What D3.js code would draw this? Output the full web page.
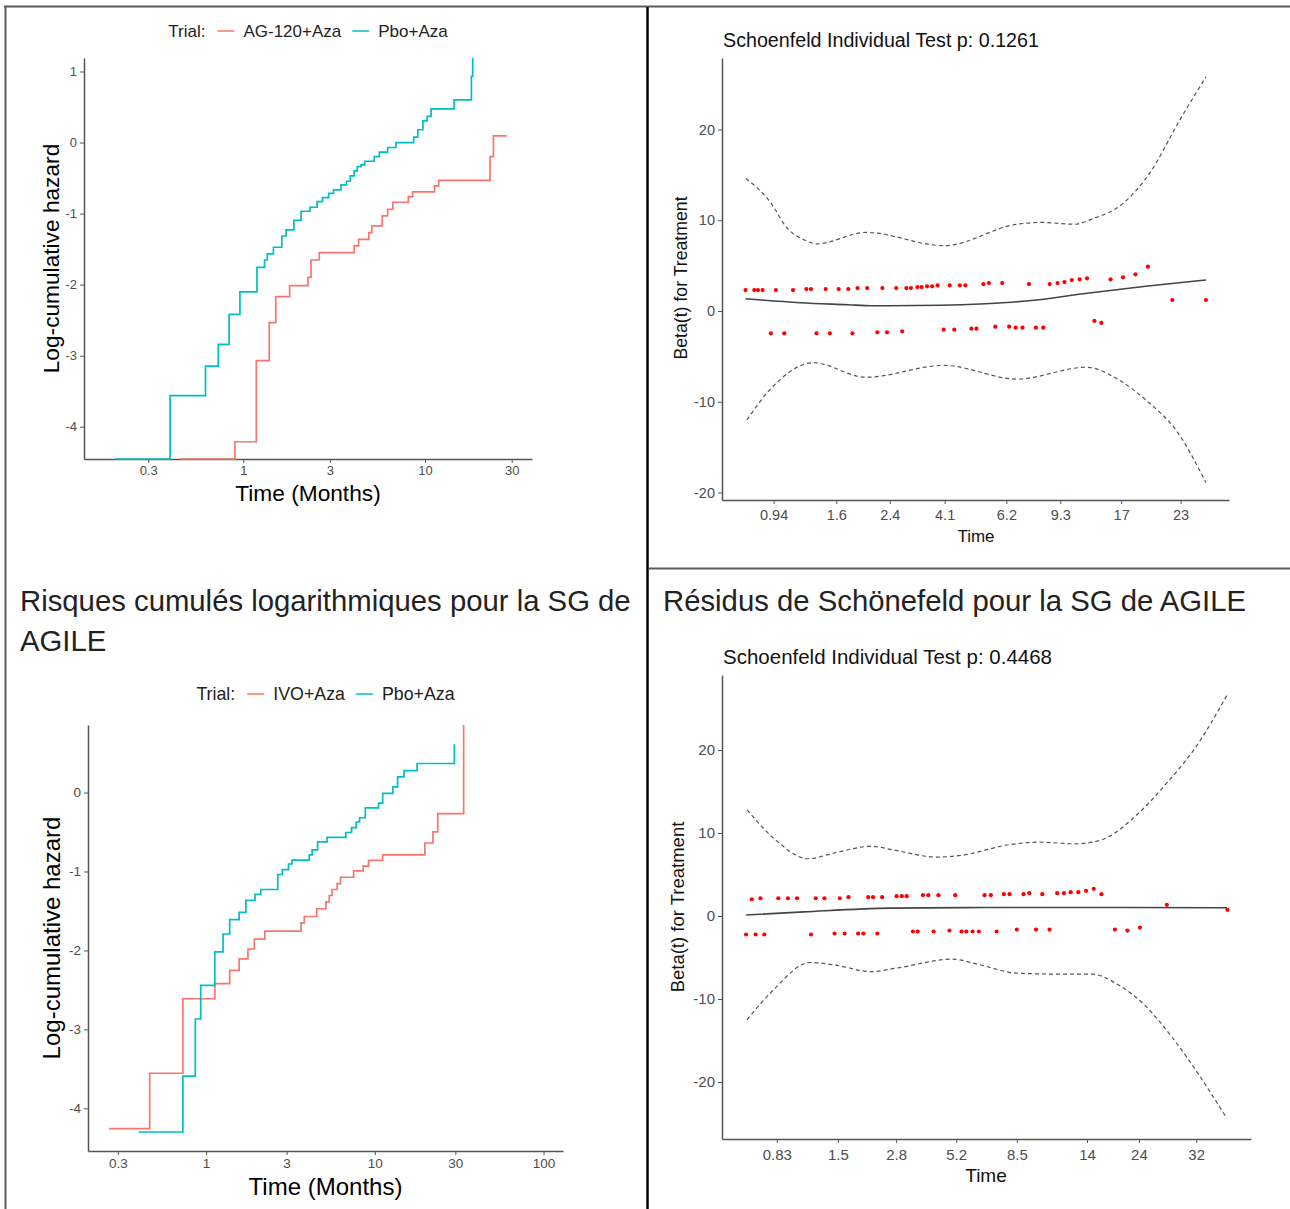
<!DOCTYPE html>
<html>
<head>
<meta charset="utf-8">
<script src="https://cdn.jsdelivr.net/npm/d3@7"></script>
<style>
body { margin: 0; background: #fff; }
svg { display: block; font-family: "Liberation Sans", Arial, sans-serif; }
</style>
</head>
<body>
<svg id="chart"></svg>
<script>
// ---- top left: log-cumulative hazard, AG-120+Aza vs Pbo+Aza ----
var tlNames = ["AG-120+Aza", "Pbo+Aza"];
var tlAgTime = [0.45, 0.90, 1.18, 1.39, 1.51, 1.80, 2.27, 2.36, 2.62, 4.08, 4.31, 4.91, 5.10, 5.82, 6.23, 6.66, 8.10, 8.54, 11.28, 11.9, 22.8, 23.8, 28.2];
var tlAgLch  = [-4.454, -4.211, -3.07, -2.535, -2.169, -2.014, -1.897, -1.653, -1.549, -1.455, -1.362, -1.268, -1.174, -1.033, -0.939, -0.840, -0.761, -0.695, -0.610, -0.531, -0.197, 0.094, 0.094];
var tlPboTime = [0.197, 0.396, 0.620, 0.729, 0.836, 0.959, 1.19, 1.31, 1.356, 1.466, 1.63, 1.72, 1.90, 2.08, 2.33, 2.55, 2.73, 2.95, 3.14, 3.45, 3.70, 3.88, 4.08, 4.24, 4.45, 4.66, 5.26, 5.61, 6.23, 6.92, 8.67, 9.13, 9.74, 10.27, 10.8, 14.45, 18.0, 18.3];
var tlPboLch  = [-4.454, -3.563, -3.146, -2.840, -2.418, -2.103, -1.756, -1.653, -1.568, -1.474, -1.315, -1.23, -1.094, -0.967, -0.911, -0.831, -0.775, -0.714, -0.667, -0.596, -0.545, -0.469, -0.399, -0.338, -0.315, -0.263, -0.197, -0.136, -0.070, 0, 0.075, 0.18, 0.305, 0.37, 0.474, 0.60, 0.93, 1.19];
var tlXTicks = [0.3, 1, 3, 10, 30];
var tlYTicks = [-4, -3, -2, -1, 0, 1];

// ---- bottom left: log-cumulative hazard, IVO+Aza vs Pbo+Aza ----
var blNames = ["IVO+Aza", "Pbo+Aza"];
var blIvoTime = [0.266, 0.463, 0.728, 1.126, 1.38, 1.57, 1.77, 1.93, 2.23, 3.65, 3.82, 4.53, 5.13, 5.37, 5.58, 5.98, 6.26, 7.49, 8.53, 9.18, 11.13, 19.8, 22.1, 23.6, 33.6];
var blIvoLch  = [-4.257, -3.556, -2.612, -2.421, -2.253, -2.106, -1.982, -1.858, -1.756, -1.650, -1.570, -1.472, -1.384, -1.304, -1.228, -1.153, -1.073, -0.993, -0.931, -0.860, -0.789, -0.639, -0.497, -0.266, 0.856];
var blPboTime = [0.398, 0.728, 0.863, 0.929, 1.126, 1.26, 1.38, 1.57, 1.72, 1.95, 2.11, 2.66, 2.83, 3.08, 3.23, 4.09, 4.25, 4.58, 5.21, 6.73, 7.28, 7.76, 8.12, 8.78, 10.52, 11.13, 12.8, 13.65, 14.9, 17.8, 29.6];
var blPboLch  = [-4.30, -3.592, -2.869, -2.443, -2.018, -1.792, -1.610, -1.517, -1.366, -1.290, -1.228, -1.038, -0.976, -0.905, -0.856, -0.789, -0.727, -0.625, -0.568, -0.506, -0.443, -0.373, -0.319, -0.195, -0.133, -0.009, 0.071, 0.20, 0.279, 0.368, 0.612];
var blXTicks = [0.3, 1, 3, 10, 30, 100];
var blYTicks = [-4, -3, -2, -1, 0];

// ---- top right: Schoenfeld residuals (transformed time, 0..1) ----
var trTickPos = [0.062, 0.198, 0.314, 0.433, 0.567, 0.684, 0.816, 0.945];
var trTickLabels = ["0.94", "1.6", "2.4", "4.1", "6.2", "9.3", "17", "23"];
var trYTicks = [-20, -10, 0, 10, 20];
var trResT = [0.001, 0.020, 0.028, 0.038, 0.067, 0.104, 0.133, 0.143, 0.175, 0.203, 0.224, 0.244, 0.265, 0.298, 0.328, 0.350, 0.360, 0.374, 0.383, 0.395, 0.406, 0.418, 0.444, 0.466, 0.478, 0.517, 0.529, 0.558, 0.616, 0.661, 0.678, 0.693, 0.709, 0.726, 0.742, 0.793, 0.820, 0.847, 0.874, 0.927, 1.000,
              0.056, 0.085, 0.155, 0.184, 0.233, 0.287, 0.308, 0.341, 0.431, 0.454, 0.491, 0.502, 0.543, 0.573, 0.587, 0.602, 0.631, 0.647, 0.758, 0.773];
var trResB = [2.31, 2.31, 2.31, 2.31, 2.31, 2.31, 2.42, 2.42, 2.42, 2.42, 2.42, 2.53, 2.53, 2.53, 2.53, 2.53, 2.53, 2.64, 2.64, 2.72, 2.72, 2.83, 2.83, 2.83, 2.83, 2.97, 3.08, 3.08, 2.97, 2.97, 3.08, 3.19, 3.41, 3.49, 3.60, 3.49, 3.71, 4.04, 4.88, 1.21, 1.21,
              -2.46, -2.46, -2.46, -2.46, -2.46, -2.35, -2.35, -2.24, -2.06, -2.06, -1.95, -1.95, -1.73, -1.73, -1.84, -1.84, -1.84, -1.84, -1.10, -1.32];
var trFitT = [0.001, 0.119, 0.223, 0.275, 0.425, 0.522, 0.627, 0.724, 0.874, 1.0];
var trFitB = [1.35, 0.91, 0.69, 0.58, 0.63, 0.80, 1.18, 1.84, 2.75, 3.41];
var trUpT = [0.002, 0.059, 0.087, 0.13, 0.156, 0.262, 0.432, 0.59, 0.644, 0.715, 0.751, 0.821, 0.874, 0.945, 1.0];
var trUpB = [14.6, 11.7, 9.4, 7.8, 7.4, 8.66, 7.2, 9.56, 9.76, 9.56, 10.1, 11.9, 14.9, 21.2, 25.8];
var trLoT = [0.004, 0.059, 0.148, 0.262, 0.432, 0.59, 0.741, 0.811, 0.874, 0.936, 1.0];
var trLoB = [-12.0, -8.4, -5.7, -7.3, -6.0, -7.5, -6.2, -7.6, -10, -13.2, -18.9];

// ---- bottom right: Schoenfeld residuals ----
var brTickPos = [0.064, 0.191, 0.312, 0.437, 0.563, 0.709, 0.817, 0.936];
var brTickLabels = ["0.83", "1.5", "2.8", "5.2", "8.5", "14", "24", "32"];
var brYTicks = [-20, -10, 0, 10, 20];
var brResT = [0.012, 0.030, 0.067, 0.087, 0.106, 0.145, 0.163, 0.195, 0.213, 0.254, 0.264, 0.283, 0.313, 0.324, 0.334, 0.368, 0.379, 0.400, 0.435, 0.496, 0.509, 0.536, 0.548, 0.577, 0.589, 0.616, 0.647, 0.661, 0.675, 0.691, 0.707, 0.723, 0.739, 0.875, 1.001,
              0.000, 0.020, 0.038, 0.135, 0.184, 0.205, 0.233, 0.244, 0.273, 0.347, 0.357, 0.390, 0.423, 0.448, 0.458, 0.471, 0.484, 0.521, 0.563, 0.603, 0.631, 0.767, 0.793, 0.819];
var brResB = [2.02, 2.14, 2.14, 2.14, 2.14, 2.14, 2.14, 2.14, 2.27, 2.27, 2.27, 2.27, 2.39, 2.39, 2.39, 2.51, 2.51, 2.51, 2.51, 2.51, 2.51, 2.63, 2.63, 2.63, 2.75, 2.63, 2.75, 2.75, 2.87, 2.87, 3.04, 3.28, 2.63, 1.35, 0.75,
              -2.23, -2.23, -2.23, -2.23, -2.11, -2.11, -2.11, -2.11, -2.11, -1.87, -1.87, -1.87, -1.75, -1.87, -1.87, -1.87, -1.87, -1.87, -1.63, -1.63, -1.63, -1.63, -1.75, -1.39];
var brFitT = [0, 0.12, 0.3, 0.5, 0.8, 1.0];
var brFitB = [0.13, 0.5, 0.95, 1.02, 1.03, 1.0];
var brUpT = [0.002, 0.057, 0.129, 0.184, 0.260, 0.311, 0.396, 0.447, 0.548, 0.608, 0.684, 0.735, 0.820, 0.870, 0.938, 1.0];
var brUpB = [12.8, 9.4, 6.9, 7.6, 8.4, 7.9, 7.1, 7.3, 8.6, 8.9, 8.7, 9.1, 12.6, 15.7, 20.6, 26.6];
var brLoT = [0.002, 0.057, 0.133, 0.184, 0.260, 0.311, 0.430, 0.481, 0.566, 0.650, 0.718, 0.777, 0.828, 0.887, 1.0];
var brLoB = [-12.5, -8.9, -5.6, -5.9, -6.7, -6.3, -5.2, -5.8, -6.9, -7.0, -7.0, -8.4, -10.7, -14.7, -24.4];

var captions = ["Risques cumulés logarithmiques pour la SG de", "AGILE", "Résidus de Schönefeld pour la SG de AGILE"];

var red = "#F8766D", teal = "#00BFC4";

var svg = d3.select("#chart")
            .attr("width", 1290)
            .attr("height", 1209);

svg.append("rect").attr("width", 1290).attr("height", 1209).attr("fill", "#fff");

// table borders
svg.append("line").attr("x1", 4).attr("x2", 1290).attr("y1", 6.5).attr("y2", 6.5)
   .attr("stroke", "#5a5a5a").attr("stroke-width", 2);
svg.append("line").attr("x1", 5.5).attr("x2", 5.5).attr("y1", 6).attr("y2", 1209)
   .attr("stroke", "#5a5a5a").attr("stroke-width", 2);
svg.append("line").attr("x1", 647.5).attr("x2", 647.5).attr("y1", 7).attr("y2", 1209)
   .attr("stroke", "#000").attr("stroke-width", 2.5);
svg.append("line").attr("x1", 649).attr("x2", 1290).attr("y1", 568.5).attr("y2", 568.5)
   .attr("stroke", "#5a5a5a").attr("stroke-width", 2);

// captions
svg.append("text").attr("x", 20).attr("y", 611).attr("font-size", 29.3).attr("fill", "#222").text(captions[0]);
svg.append("text").attr("x", 20).attr("y", 651).attr("font-size", 29.3).attr("fill", "#222").text(captions[1]);
svg.append("text").attr("x", 663).attr("y", 611).attr("font-size", 29.3).attr("fill", "#222").text(captions[2]);

// plain hyphen minus, as in the R output
var plainNum = function(d) { return String(d); };

function styleAxis(ax, fs)
{
  ax.select(".domain").attr("stroke", "#555").attr("stroke-width", 1.5);
  ax.selectAll(".tick line").attr("stroke", "#555").attr("stroke-width", 1);
  ax.selectAll(".tick text").attr("fill", "#4d4d4d").attr("font-size", fs)
    .attr("font-family", "Liberation Sans, Arial, sans-serif");
}

var drawHazard = function(o)
{
  var g = svg.append("g");
  var x = d3.scaleLog().domain(o.xDomain).range([o.left, o.right]);
  var y = d3.scaleLinear().domain(o.yDomain).range([o.bottom, o.top]);

  var xa = g.append("g").attr("transform", "translate(0," + o.bottom + ")")
            .call(d3.axisBottom(x).tickValues(o.xTicks).tickFormat(plainNum).tickSize(4).tickPadding(3).tickSizeOuter(0));
  styleAxis(xa, o.tickFs);
  var ya = g.append("g").attr("transform", "translate(" + o.left + ",0)")
            .call(d3.axisLeft(y).tickValues(o.yTicks).tickFormat(plainNum).tickSize(4).tickPadding(3).tickSizeOuter(0));
  styleAxis(ya, o.tickFs);

  var line = d3.line()
               .x(function(d) { return x(d[0]); })
               .y(function(d) { return y(d[1]); })
               .curve(d3.curveStepAfter);

  o.series.forEach(function(s)
  {
    g.append("path")
     .datum(d3.zip(s.time, s.lch))
     .attr("d", line)
     .attr("fill", "none")
     .attr("stroke", s.color)
     .attr("stroke-width", 1.7);
  });

  g.append("text").attr("x", (o.left + o.right) / 2).attr("y", o.xTitleY).attr("dy", "0.35em")
   .attr("text-anchor", "middle").attr("font-size", o.titleFs).attr("fill", "#000").text("Time (Months)");
  g.append("text").attr("transform", "translate(" + o.yTitleX + "," + (o.top + o.bottom) / 2 + ") rotate(-90)")
   .attr("dy", "0.35em").attr("text-anchor", "middle").attr("font-size", o.titleFs).attr("fill", "#000")
   .text("Log-cumulative hazard");

  // legend, centred over the panel
  var lg = g.append("g");
  var cx = 0;
  var t0 = lg.append("text").attr("x", cx).attr("y", 0).attr("dy", "0.35em").attr("font-size", o.legendFs)
             .attr("fill", "#222").text("Trial:");
  cx += t0.node().getComputedTextLength() + 12;
  o.series.forEach(function(s)
  {
    lg.append("line").attr("x1", cx).attr("x2", cx + 17).attr("y1", 0).attr("y2", 0)
      .attr("stroke", s.color).attr("stroke-width", 1.5);
    cx += 26;
    var t = lg.append("text").attr("x", cx).attr("y", 0).attr("dy", "0.35em").attr("font-size", o.legendFs)
              .attr("fill", "#222").text(s.name);
    cx += t.node().getComputedTextLength() + 11;
  });
  cx -= 11;
  lg.attr("transform", "translate(" + ((o.left + o.right) / 2 - cx / 2) + "," + o.legendY + ")");
}

var drawSchoenfeld = function(o)
{
  var g = svg.append("g");
  var x = d3.scaleLinear().domain([-0.05, 1.05]).range([o.left, o.right]);
  var y = d3.scaleLinear().domain(o.yDomain).range([o.bottom, o.top]);

  var xa = g.append("g").attr("transform", "translate(0," + o.bottom + ")")
            .call(d3.axisBottom(x).tickValues(o.tickPos).tickFormat(function(d, i) { return o.tickLabels[i]; })
                    .tickSize(4).tickPadding(6).tickSizeOuter(0));
  styleAxis(xa, o.tickFs);
  var ya = g.append("g").attr("transform", "translate(" + o.left + ",0)")
            .call(d3.axisLeft(y).tickValues(o.yTicks).tickFormat(plainNum).tickSize(4).tickPadding(3).tickSizeOuter(0));
  styleAxis(ya, o.tickFs);

  var line = d3.line()
               .x(function(d) { return x(d[0]); })
               .y(function(d) { return y(d[1]); })
               .curve(d3.curveMonotoneX);

  [[o.upT, o.upB], [o.loT, o.loB]].forEach(function(b)
  {
    g.append("path").datum(d3.zip(b[0], b[1])).attr("d", line)
     .attr("fill", "none").attr("stroke", "#555").attr("stroke-width", 1.2)
     .attr("stroke-dasharray", "4,3");
  });
  g.append("path").datum(d3.zip(o.fitT, o.fitB)).attr("d", line)
   .attr("fill", "none").attr("stroke", "#444").attr("stroke-width", 1.6);

  g.selectAll("circle.res")
   .data(d3.zip(o.resT, o.resB))
   .enter()
   .append("circle")
   .attr("cx", function(d) { return x(d[0]); })
   .attr("cy", function(d) { return y(d[1]); })
   .attr("r", 2.1)
   .attr("fill", "#ff0000");

  g.append("text").attr("x", o.left + 1).attr("y", o.titleY).attr("dy", "0.35em")
   .attr("font-size", o.titleFs).attr("fill", "#111").text(o.title);
  g.append("text").attr("x", o.xTitleX).attr("y", o.xTitleY).attr("dy", "0.35em").attr("text-anchor", "middle")
   .attr("font-size", o.xTitleFs).attr("fill", "#111").text("Time");
  g.append("text").attr("transform", "translate(" + o.yTitleX + "," + o.yTitleY + ") rotate(-90)")
   .attr("dy", "0.35em").attr("text-anchor", "middle").attr("font-size", o.yTitleFs).attr("fill", "#111")
   .text("Beta(t) for Treatment");
}

drawHazard({
  left: 84, right: 532, top: 58, bottom: 459,
  xDomain: [0.133, 38.8], yDomain: [-4.454, 1.19],
  xTicks: tlXTicks, yTicks: tlYTicks,
  series: [{name: tlNames[0], color: red, time: tlAgTime, lch: tlAgLch},
           {name: tlNames[1], color: teal, time: tlPboTime, lch: tlPboLch}],
  tickFs: 13, titleFs: 22.7, legendFs: 17, legendY: 31, xTitleY: 493, yTitleX: 51
});

drawHazard({
  left: 88, right: 563, top: 725, bottom: 1151,
  xDomain: [0.1995, 130.4], yDomain: [-4.541, 0.856],
  xTicks: blXTicks, yTicks: blYTicks,
  series: [{name: blNames[0], color: red, time: blIvoTime, lch: blIvoLch},
           {name: blNames[1], color: teal, time: blPboTime, lch: blPboLch}],
  tickFs: 13.5, titleFs: 24, legendFs: 17.8, legendY: 694, xTitleY: 1187, yTitleX: 52
});

drawSchoenfeld({
  left: 722, right: 1229, top: 58, bottom: 500,
  yDomain: [-20.83, 27.88], yTicks: trYTicks,
  tickPos: trTickPos, tickLabels: trTickLabels,
  resT: trResT, resB: trResB, fitT: trFitT, fitB: trFitB,
  upT: trUpT, upB: trUpB, loT: trLoT, loB: trLoB,
  title: "Schoenfeld Individual Test p: 0.1261", titleY: 40, titleFs: 19.7,
  tickFs: 14.5, xTitleX: 976, xTitleY: 536, xTitleFs: 17,
  yTitleX: 681, yTitleY: 278, yTitleFs: 17.7
});

drawSchoenfeld({
  left: 722, right: 1251, top: 675, bottom: 1139,
  yDomain: [-26.87, 29.04], yTicks: brYTicks,
  tickPos: brTickPos, tickLabels: brTickLabels,
  resT: brResT, resB: brResB, fitT: brFitT, fitB: brFitB,
  upT: brUpT, upB: brUpB, loT: brLoT, loB: brLoB,
  title: "Schoenfeld Individual Test p: 0.4468", titleY: 657, titleFs: 20.5,
  tickFs: 15, xTitleX: 986, xTitleY: 1175, xTitleFs: 19,
  yTitleX: 678, yTitleY: 907, yTitleFs: 18.5
});
</script>
</body>
</html>
